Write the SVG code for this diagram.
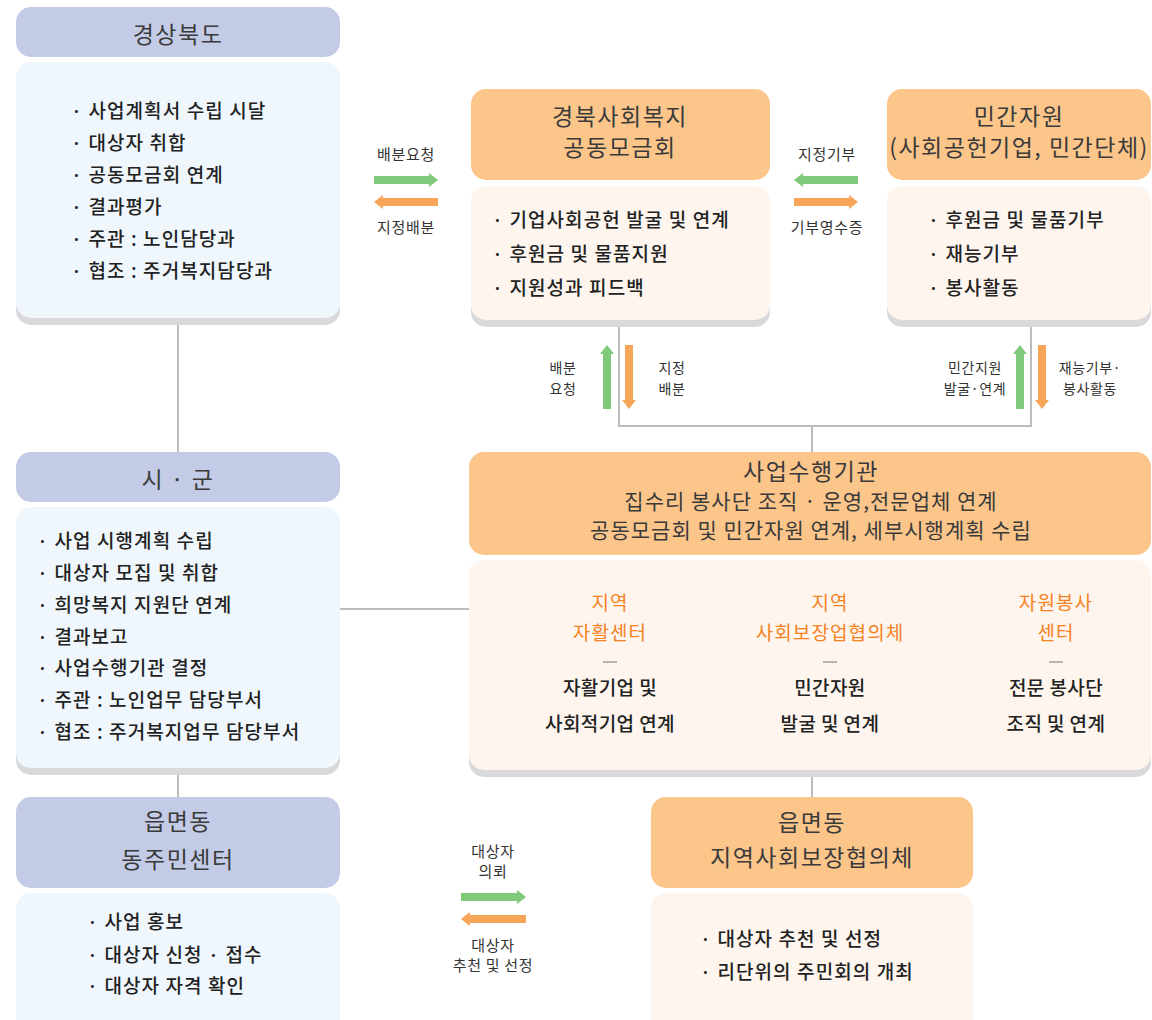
<svg xmlns="http://www.w3.org/2000/svg" width="1152" height="1020" viewBox="0 0 1152 1020">
<style>
text{font-family:"Noto Sans CJK KR","Noto Sans",sans-serif}
.hb{fill:#c3cbe6}
.bb{fill:#eff7fd}
.ho{fill:#fcc68b}
.bo{fill:#fdf5ee}
.sh{fill:#d9d9db}
.ht{font-size:23px;letter-spacing:1.5px;fill:#3a3a3a;text-anchor:middle}
.st{font-size:21px;letter-spacing:1px;fill:#3a3a3a;text-anchor:middle}
.bt{font-size:19px;letter-spacing:1.1px;font-weight:500;fill:#222}
.ct{font-size:19px;letter-spacing:0.4px;font-weight:500;fill:#222;text-anchor:middle}
.ot{font-size:19px;letter-spacing:1.1px;fill:#f5821f;text-anchor:middle}
.lt{font-size:15px;letter-spacing:0.7px;fill:#333;text-anchor:middle}
.vt{font-size:14px;letter-spacing:0.6px;fill:#333;text-anchor:middle}
.conn{stroke:#bcbcbc;stroke-width:2;fill:none}
.ga{fill:#80c97a}
.oa{fill:#f7a659}
.dash{stroke:#a0a0a0;stroke-width:1.5}
</style>
<rect width="1152" height="1020" fill="#ffffff"/>

<g id="connectors">
<path class="conn" d="M178 325V452M178 775V797M340 609H470"/>
<path class="conn" d="M619 327V426H1031V327M812 426V452M812 776V797"/>
</g>

<g id="arrows">
<polygon class="ga" points="374,176 429,176 429,173 438,180 429,187 429,184 374,184"/>
<polygon class="oa" points="438,198 383,198 383,195 374,202 383,209 383,206 438,206"/>
<text class="lt" x="406" y="160">배분요청</text>
<text class="lt" x="406" y="233">지정배분</text>
<polygon class="ga" points="858,176 803,176 803,173 794,180 803,187 803,184 858,184"/>
<polygon class="oa" points="794,198 849,198 849,195 858,202 849,209 849,206 794,206"/>
<text class="lt" x="827" y="160">지정기부</text>
<text class="lt" x="827" y="233">기부영수증</text>

<polygon class="ga" points="603,409 603,354 600,354 607,345 614,354 611,354 611,409"/>
<polygon class="oa" points="625,345 625,400 622,400 629,409 636,400 633,400 633,345"/>
<text class="vt" x="563" y="373">배분</text>
<text class="vt" x="563" y="394">요청</text>
<text class="vt" x="672" y="373">지정</text>
<text class="vt" x="672" y="394">배분</text>
<polygon class="ga" points="1016,409 1016,354 1013,354 1020,345 1027,354 1024,354 1024,409"/>
<polygon class="oa" points="1038,345 1038,400 1035,400 1042,409 1049,400 1046,400 1046,345"/>
<text class="vt" x="975" y="373">민간지원</text>
<text class="vt" x="975" y="394">발굴·연계</text>
<text class="vt" x="1090" y="373">재능기부·</text>
<text class="vt" x="1090" y="394">봉사활동</text>

<polygon class="ga" points="461,893 517,893 517,890 526,897 517,904 517,901 461,901"/>
<polygon class="oa" points="526,915 470,915 470,912 461,919 470,926 470,923 526,923"/>
<text class="lt" x="493" y="857">대상자</text>
<text class="lt" x="493" y="877">의뢰</text>
<text class="lt" x="493" y="951">대상자</text>
<text class="lt" x="493" y="971">추천 및 선정</text>
</g>

<g id="gyeongbuk">
<rect class="hb" x="16" y="7" width="324" height="50" rx="15"/>
<text class="ht" x="178" y="43">경상북도</text>
<rect class="sh" x="16" y="69" width="324" height="256" rx="15"/>
<rect class="bb" x="16" y="62" width="324" height="256" rx="15"/>
<text class="bt" x="71" y="118">· 사업계획서 수립 시달</text>
<text class="bt" x="71" y="150">· 대상자 취합</text>
<text class="bt" x="71" y="182">· 공동모금회 연계</text>
<text class="bt" x="71" y="214">· 결과평가</text>
<text class="bt" x="71" y="246">· 주관 : 노인담당과</text>
<text class="bt" x="71" y="278">· 협조 : 주거복지담당과</text>
</g>

<g id="sigun">
<rect class="hb" x="16" y="452" width="324" height="50" rx="15"/>
<text class="ht" x="178" y="488">시 · 군</text>
<rect class="sh" x="16" y="514" width="324" height="261" rx="15"/>
<rect class="bb" x="16" y="507" width="324" height="261" rx="15"/>
<text class="bt" x="37" y="548">· 사업 시행계획 수립</text>
<text class="bt" x="37" y="580">· 대상자 모집 및 취합</text>
<text class="bt" x="37" y="612">· 희망복지 지원단 연계</text>
<text class="bt" x="37" y="644">· 결과보고</text>
<text class="bt" x="37" y="675">· 사업수행기관 결정</text>
<text class="bt" x="37" y="707">· 주관 : 노인업무 담당부서</text>
<text class="bt" x="37" y="739">· 협조 : 주거복지업무 담당부서</text>
</g>

<g id="eupmyeondong">
<rect class="hb" x="16" y="797" width="324" height="91" rx="15"/>
<text class="ht" x="178" y="830">읍면동</text>
<text class="ht" x="178" y="868">동주민센터</text>
<rect class="sh" x="16" y="900" width="324" height="140" rx="15"/>
<rect class="bb" x="16" y="893" width="324" height="140" rx="15"/>
<text class="bt" x="87" y="929">· 사업 홍보</text>
<text class="bt" x="87" y="962">· 대상자 신청 · 접수</text>
<text class="bt" x="87" y="993">· 대상자 자격 확인</text>
</g>

<g id="gongdong">
<rect class="ho" x="471" y="89" width="299" height="91" rx="15"/>
<text class="ht" x="620" y="125">경북사회복지</text>
<text class="ht" x="620" y="156">공동모금회</text>
<rect class="sh" x="471" y="193" width="299" height="134" rx="15"/>
<rect class="bo" x="471" y="186" width="299" height="134" rx="15"/>
<text class="bt" x="492" y="227">· 기업사회공헌 발굴 및 연계</text>
<text class="bt" x="492" y="261">· 후원금 및 물품지원</text>
<text class="bt" x="492" y="295">· 지원성과 피드백</text>
</g>

<g id="mingan">
<rect class="ho" x="887" y="89" width="264" height="91" rx="15"/>
<text class="ht" x="1019" y="125">민간자원</text>
<text class="ht" x="1019" y="156">(사회공헌기업, 민간단체)</text>
<rect class="sh" x="887" y="193" width="264" height="134" rx="15"/>
<rect class="bo" x="887" y="186" width="264" height="134" rx="15"/>
<text class="bt" x="928" y="227">· 후원금 및 물품기부</text>
<text class="bt" x="928" y="261">· 재능기부</text>
<text class="bt" x="928" y="295">· 봉사활동</text>
</g>

<g id="saeop">
<rect class="ho" x="469" y="452" width="682" height="103" rx="15"/>
<text class="ht" x="811" y="480">사업수행기관</text>
<text class="st" x="811" y="509">집수리 봉사단 조직 · 운영,전문업체 연계</text>
<text class="st" x="811" y="538">공동모금회 및 민간자원 연계, 세부시행계획 수립</text>
<rect class="sh" x="469" y="567" width="682" height="210" rx="15"/>
<rect class="bo" x="469" y="560" width="682" height="210" rx="15"/>
<text class="ot" x="610" y="610">지역</text>
<text class="ot" x="610" y="640">자활센터</text>
<line class="dash" x1="603" y1="662" x2="617" y2="662"/>
<text class="ct" x="610" y="695">자활기업 및</text>
<text class="ct" x="610" y="731">사회적기업 연계</text>
<text class="ot" x="830" y="610">지역</text>
<text class="ot" x="830" y="640">사회보장업협의체</text>
<line class="dash" x1="823" y1="662" x2="837" y2="662"/>
<text class="ct" x="830" y="695">민간자원</text>
<text class="ct" x="830" y="731">발굴 및 연계</text>
<text class="ot" x="1056" y="610">자원봉사</text>
<text class="ot" x="1056" y="640">센터</text>
<line class="dash" x1="1049" y1="662" x2="1063" y2="662"/>
<text class="ct" x="1056" y="695">전문 봉사단</text>
<text class="ct" x="1056" y="731">조직 및 연계</text>
</g>

<g id="hyeobuiche">
<rect class="ho" x="651" y="797" width="322" height="91" rx="15"/>
<text class="ht" x="812" y="831">읍면동</text>
<text class="ht" x="812" y="866">지역사회보장협의체</text>
<rect class="sh" x="651" y="900" width="322" height="140" rx="15"/>
<rect class="bo" x="651" y="893" width="322" height="140" rx="15"/>
<text class="bt" x="700" y="946">· 대상자 추천 및 선정</text>
<text class="bt" x="700" y="979">· 리단위의 주민회의 개최</text>
</g>
</svg>
